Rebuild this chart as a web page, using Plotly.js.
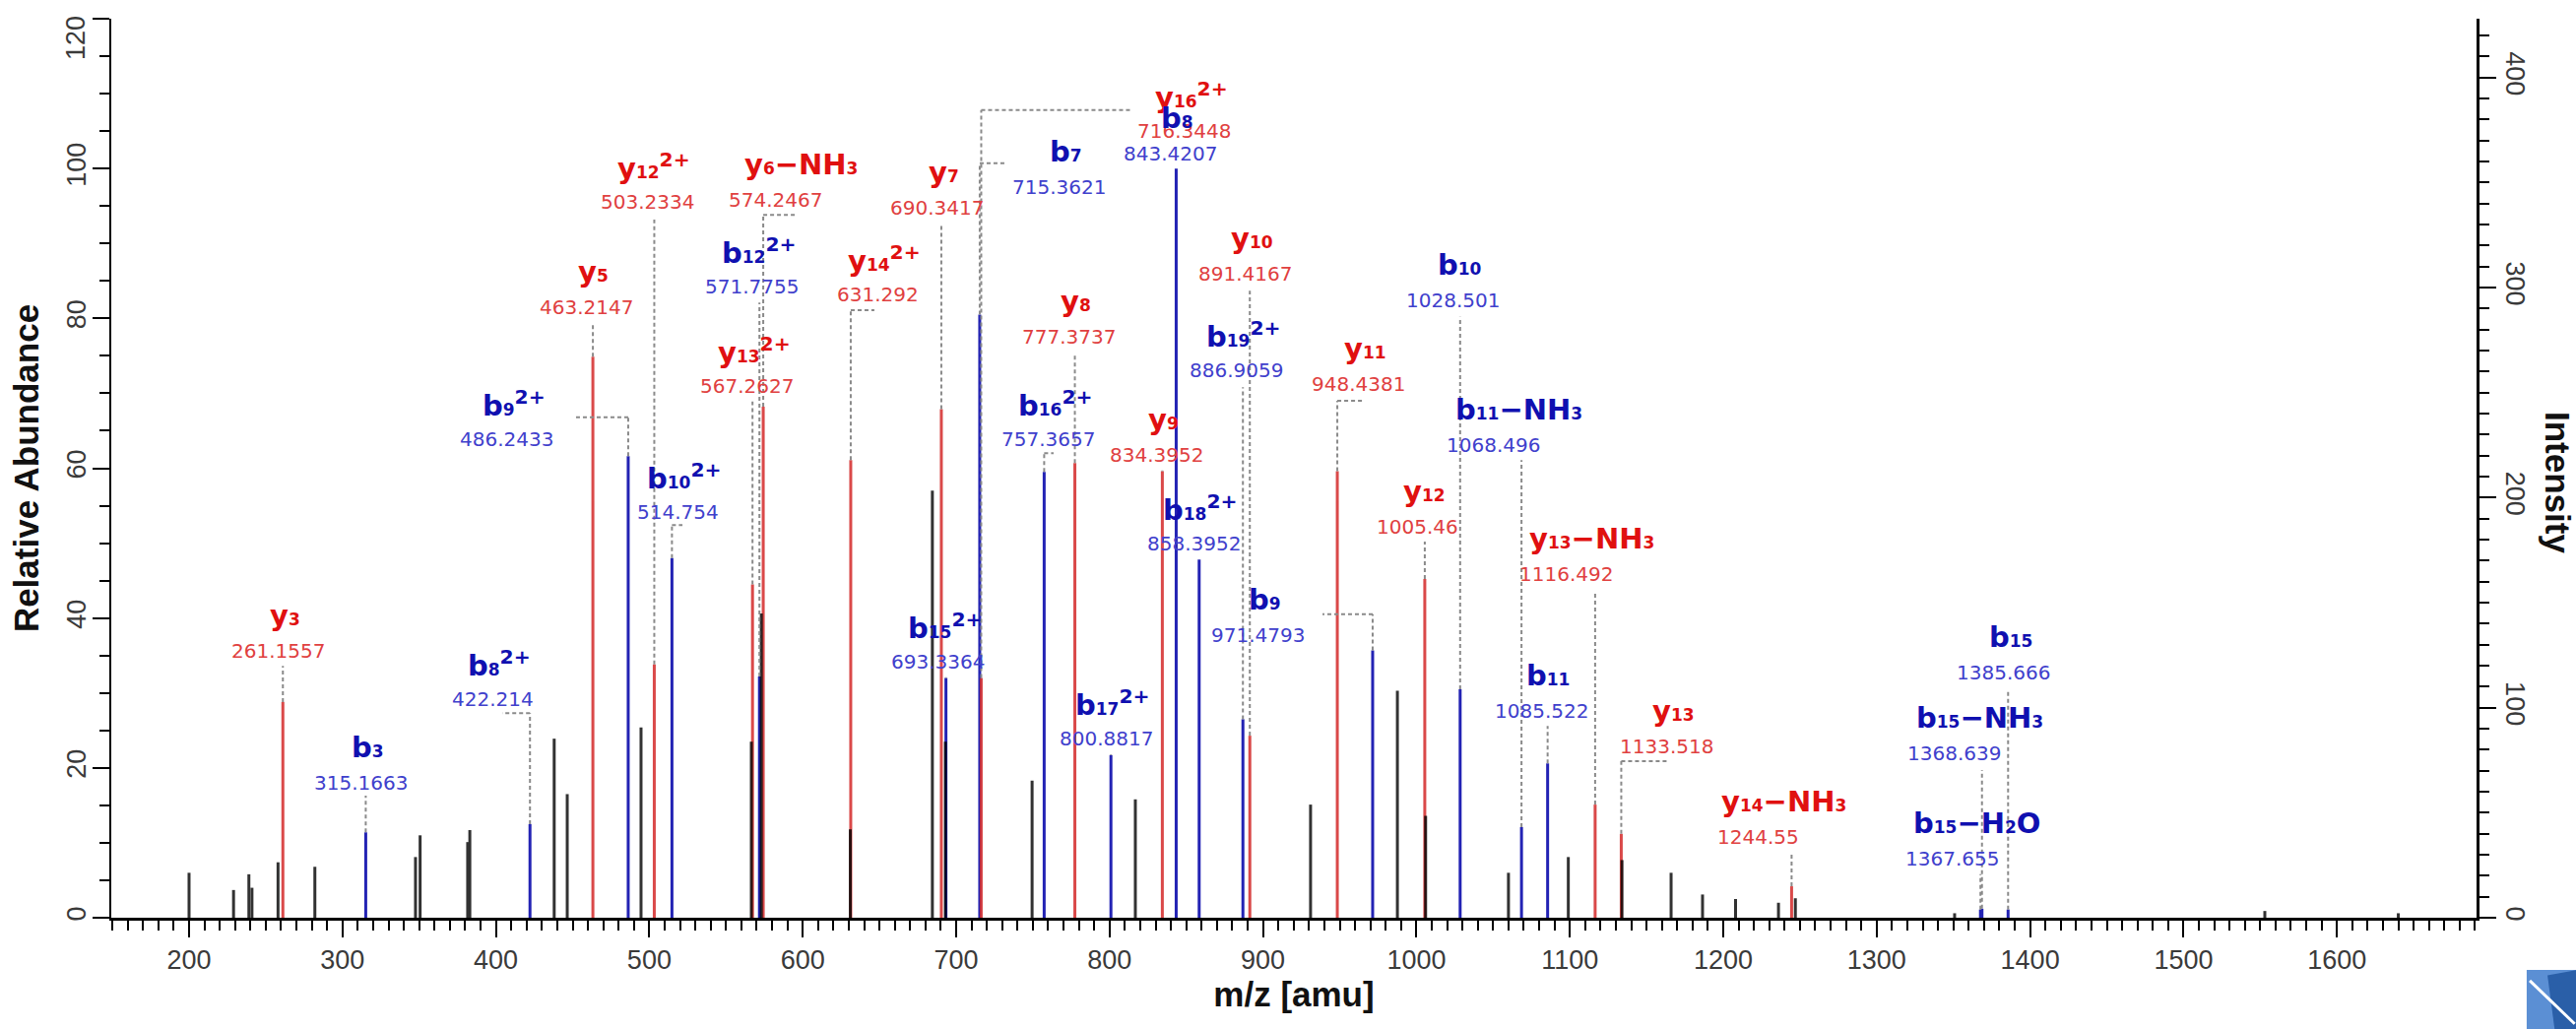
<!DOCTYPE html>
<html>
<head>
<meta charset="utf-8">
<script src="https://cdn.plot.ly/plotly-3.0.1.min.js"></script>
<style>
  html, body { margin: 0; padding: 0; background: #ffffff; }
  #spectrum { width: 2616px; height: 1045px; }
</style>
</head>
<body>
<div id="spectrum"></div>
<script>
// ---- MS/MS spectrum: fragment peaks (m/z, relative abundance %) ----

// Unassigned peaks
const otherMz = [200.0, 229.0, 239.0, 241.0, 258.0, 282.0, 347.6, 350.6, 381.6, 383.0,
                 438.0, 446.5, 494.6, 566.5, 573.0, 631.0, 684.5, 693.0, 749.5, 816.8,
                 931.0, 987.6, 1006.0, 1060.0, 1099.0, 1134.0, 1166.0, 1186.5, 1208.0,
                 1236.0, 1247.0, 1350.8, 1553.0, 1640.0];
const otherAbund = [6.0, 3.7, 5.8, 4.0, 7.4, 6.8, 8.1, 11.0, 10.1, 11.7,
                    23.9, 16.5, 25.4, 23.5, 40.6, 11.8, 57.0, 23.5, 18.3, 15.8,
                    15.1, 30.3, 13.6, 6.0, 8.1, 7.7, 6.0, 3.1, 2.5,
                    2.0, 2.6, 0.6, 0.9, 0.6];

// y-series ions
const yNames = ['y3', 'y5', 'y12^2+', 'y13^2+', 'y6-NH3', 'y14^2+', 'y7', 'y16^2+', 'y8',
                'y9', 'y10', 'y11', 'y12', 'y13-NH3', 'y13', 'y14-NH3'];
const yMz = [261.1557, 463.2147, 503.2334, 567.2627, 574.2467, 631.292, 690.3417, 716.3448,
             777.3737, 834.3952, 891.4167, 948.4381, 1005.46, 1116.492, 1133.518, 1244.55];
const yAbund = [28.8, 74.9, 33.8, 44.5, 68.2, 61.1, 67.9, 32.0,
                60.7, 59.6, 24.3, 59.6, 45.2, 15.1, 11.2, 4.2];

// b-series ions
const bNames = ['b3', 'b8^2+', 'b9^2+', 'b10^2+', 'b12^2+', 'b15^2+', 'b7', 'b16^2+', 'b17^2+',
                'b8', 'b18^2+', 'b19^2+', 'b9', 'b10', 'b11-NH3', 'b11', 'b15-H2O', 'b15-NH3', 'b15'];
const bMz = [315.1663, 422.214, 486.2433, 514.754, 571.7755, 693.3364, 715.3621, 757.3657,
             800.8817, 843.4207, 858.3952, 886.9059, 971.4793, 1028.501, 1068.496, 1085.522,
             1367.655, 1368.639, 1385.666];
const bAbund = [11.4, 12.5, 61.6, 48.0, 32.2, 32.0, 80.5, 59.5,
                21.7, 100, 47.8, 26.5, 35.7, 30.5, 12.1, 20.6,
                1.1, 1.2, 1.1];

// Axis ticks
const mzTicks = [200, 300, 400, 500, 600, 700, 800, 900, 1000, 1100, 1200, 1300, 1400, 1500, 1600];
const relTicks = [0, 20, 40, 60, 80, 100, 120];
const intTicks = [0, 100, 200, 300, 400];

// ---- label placement (centre of the m/z text, in axis units) ----
const yLabelAt = [[258.4, 35.6], [459.3, 81.5], [498.5, 95.5], [563.9, 71.0], [582.5, 95.8],
                  [648.7, 83.2], [687.2, 94.7], [848.9, 105.0], [773.8, 77.5], [830.9, 61.8],
                  [888.1, 85.9], [961.9, 71.2], [1001.0, 52.2], [1097.9, 45.9], [1162.8, 22.9],
                  [1222.5, 10.8]];
// leader elbow: [x where the horizontal run ends (null = none), height of the run]
const yLeader = [[null, 33.6], [null, 79.1], [null, 93.2], [null, 68.9], [595.4, 93.8],
                 [646.7, 81.1], [null, 92.5], [813.6, 107.8], [null, 75.4], [null, 59.7],
                 [null, 83.7], [965.7, 69.0], [null, 50.2], [null, 43.6], [1164.7, 20.9],
                 [null, 8.8]];
const bLabelAt = [[312.3, 18.0], [397.7, 29.2], [407.3, 63.9], [518.4, 54.1], [567.1, 84.2],
                  [688.4, 34.2], [766.8, 97.5], [760.3, 63.9], [797.6, 23.9], [839.9, 102.0],
                  [854.7, 49.9], [882.9, 73.1], [896.4, 37.7], [1023.5, 82.4], [1050.4, 63.1],
                  [1081.3, 27.6], [1348.9, 7.9], [1350.2, 21.9], [1382.9, 32.7]];
const bLeader = [[null, 16.3], [404.1, 27.3], [452.2, 66.8], [521.6, 52.4], [null, 82.1],
                 [null, 32.1], [732.7, 100.7], [763.5, 62.0], [null, 21.8], [null, 100],
                 [null, 47.8], [null, 70.8], [938.8, 40.5], [null, 80.2], [null, 61.1],
                 [null, 25.6], [null, 5.8], [null, 19.7], [null, 30.5]];

// ---- styles ----
const RED_PEAK = '#d42a2a', BLUE_PEAK = '#2323b4', BLACK_PEAK = '#000000';
const RED_NAME = '#e01010', BLUE_NAME = '#1010b0';
const RED_NUM = '#e04040', BLUE_NUM = '#4040cc';
const LABEL_FONT = 'DejaVu Sans, Verdana, sans-serif';
const AXIS_FONT = 'Liberation Sans, Arial, sans-serif';
const INTENSITY_PER_PCT = 3.567;   // right-hand axis scale

function stickTrace(mz, ab, color, opacity) {
  const x = [], y = [];
  mz.forEach((m, i) => { x.push(m, m, null); y.push(0, ab[i], null); });
  return { type: 'scatter', mode: 'lines', x, y, opacity,
           line: { color, width: 3 }, hoverinfo: 'skip', showlegend: false,
           xaxis: 'x', yaxis: 'y' };
}

function small(s) { return '<span style="font-size:17px">' + s + '</span>'; }

function ionHtml(name) {
  const m = name.match(/^([by])(\d+)(?:\^(\d\+))?(?:-(\w+))?$/);
  let html = m[1] + small(m[2]);
  if (m[3]) html += '<sup>' + m[3] + '</sup>';
  if (m[4]) html += '\u2212' + m[4].replace(/(\d)/g, (d) => small(d));
  return html;
}

const annotations = [];
const shapes = [];
const dashed = { color: '#8a8a8a', width: 2, dash: '4px,3px' };

function addLabels(names, mz, ab, labelAt, leader, nameColor, numColor) {
  names.forEach((nm, i) => {
    const [lx, ly] = labelAt[i];
    const hasLoss = nm.indexOf('-') >= 0;
    annotations.push({ x: lx, y: ly, xref: 'x', yref: 'y', text: String(mz[i]),
      showarrow: false, xanchor: 'center', yanchor: 'middle',
      font: { family: LABEL_FONT, size: 20, color: numColor } });
    annotations.push({ x: lx, y: ly, xref: 'x', yref: 'y', text: ionHtml(nm),
      showarrow: false, xanchor: 'center', yanchor: 'middle',
      yshift: 36, xshift: hasLoss ? 26 : 7,
      font: { family: LABEL_FONT, size: 29, color: nameColor, weight: 'bold' } });
    const [ex, ey] = leader[i];
    if (ey > ab[i]) {
      shapes.push({ type: 'line', xref: 'x', yref: 'y', x0: mz[i], x1: mz[i],
                    y0: ab[i], y1: ey, line: dashed });
    }
    if (ex !== null) {
      shapes.push({ type: 'line', xref: 'x', yref: 'y', x0: mz[i], x1: ex,
                    y0: ey, y1: ey, line: dashed });
    }
  });
}

addLabels(yNames, yMz, yAbund, yLabelAt, yLeader, RED_NAME, RED_NUM);
addLabels(bNames, bMz, bAbund, bLabelAt, bLeader, BLUE_NAME, BLUE_NUM);

const tickFont = { family: AXIS_FONT, size: 27, color: '#3a3a3a' };
const titleFont = { family: AXIS_FONT, size: 35, color: '#111111', weight: 'bold' };

// the top label of the abundance axis sits just inside the plot, below its tick
const topRel = relTicks[relTicks.length - 1];
annotations.push({ xref: 'paper', yref: 'y', x: 0, y: topRel, yshift: -20, xshift: -36,
  text: String(topRel), textangle: -90, showarrow: false,
  xanchor: 'center', yanchor: 'middle', font: tickFont });

// right-hand axis title reads top to bottom
annotations.push({ xref: 'paper', yref: 'paper', x: 1.0346, y: 0.484, text: 'Intensity',
  textangle: 90, showarrow: false, xanchor: 'center', yanchor: 'middle', font: titleFont });

// publisher mark in the lower right corner
shapes.push({ type: 'rect', xref: 'paper', yref: 'paper', layer: 'above',
  x0: 1.0212, x1: 1.0430, y0: -0.124, y1: -0.058,
  fillcolor: '#5b8fd4', line: { width: 0 } });
shapes.push({ type: 'path', xref: 'paper', yref: 'paper', layer: 'above',
  path: 'M 1.0300 -0.064 L 1.0430 -0.058 L 1.0430 -0.124 L 1.0330 -0.124 Z',
  fillcolor: '#2a5fa8', line: { width: 0 } });
shapes.push({ type: 'line', xref: 'paper', yref: 'paper', layer: 'above',
  x0: 1.0225, y0: -0.070, x1: 1.0415, y1: -0.118,
  line: { color: '#ffffff', width: 3 } });

const traces = [
  stickTrace(bMz, bAbund, BLUE_PEAK, 1),
  stickTrace(yMz, yAbund, RED_PEAK, 0.85),
  stickTrace(otherMz, otherAbund, BLACK_PEAK, 0.8),
  // invisible trace carrying the intensity axis
  { type: 'scatter', mode: 'lines', x: [mzTicks[0]], y: [0], xaxis: 'x', yaxis: 'y2',
    hoverinfo: 'skip', showlegend: false, line: { width: 0 } }
];

const minorTicks = (dt) => ({ dtick: dt, ticks: 'outside', ticklen: 10, tickwidth: 2,
                              tickcolor: '#000', showgrid: false });

const layout = {
  width: 2616, height: 1045,
  margin: { l: 113, r: 101, t: 19, b: 113 },
  paper_bgcolor: '#ffffff', plot_bgcolor: '#ffffff',
  showlegend: false,
  xaxis: {
    range: [149.3, 1691], tickmode: 'array', tickvals: mzTicks,
    ticks: 'outside', ticklen: 17, tickwidth: 2, tickcolor: '#000',
    minor: minorTicks(10),
    showline: true, linewidth: 2.5, linecolor: '#000',
    showgrid: false, zeroline: false, tickfont: tickFont,
    title: { text: 'm/z [amu]', standoff: 0, font: titleFont }
  },
  yaxis: {
    range: [0, 120], tickmode: 'array', tickvals: relTicks,
    ticktext: relTicks.map((v) => (v === topRel ? '' : String(v))), tickangle: -90,
    ticks: 'outside', ticklen: 17, tickwidth: 2, tickcolor: '#000',
    ticklabelstandoff: -4,
    minor: minorTicks(5),
    showline: true, linewidth: 2.5, linecolor: '#000',
    showgrid: false, zeroline: false, tickfont: tickFont,
    title: { text: 'Relative Abundance', standoff: 13, font: titleFont }
  },
  yaxis2: {
    overlaying: 'y', side: 'right',
    range: [0, 120 * INTENSITY_PER_PCT], tickmode: 'array', tickvals: intTicks, tickangle: 90,
    ticks: 'outside', ticklen: 17, tickwidth: 2, tickcolor: '#000',
    minor: minorTicks(10),
    showline: true, linewidth: 2.5, linecolor: '#000',
    showgrid: false, zeroline: false, tickfont: tickFont
  },
  annotations, shapes
};

Plotly.newPlot('spectrum', traces, layout, { staticPlot: true, displayModeBar: false });
</script>
</body>
</html>
